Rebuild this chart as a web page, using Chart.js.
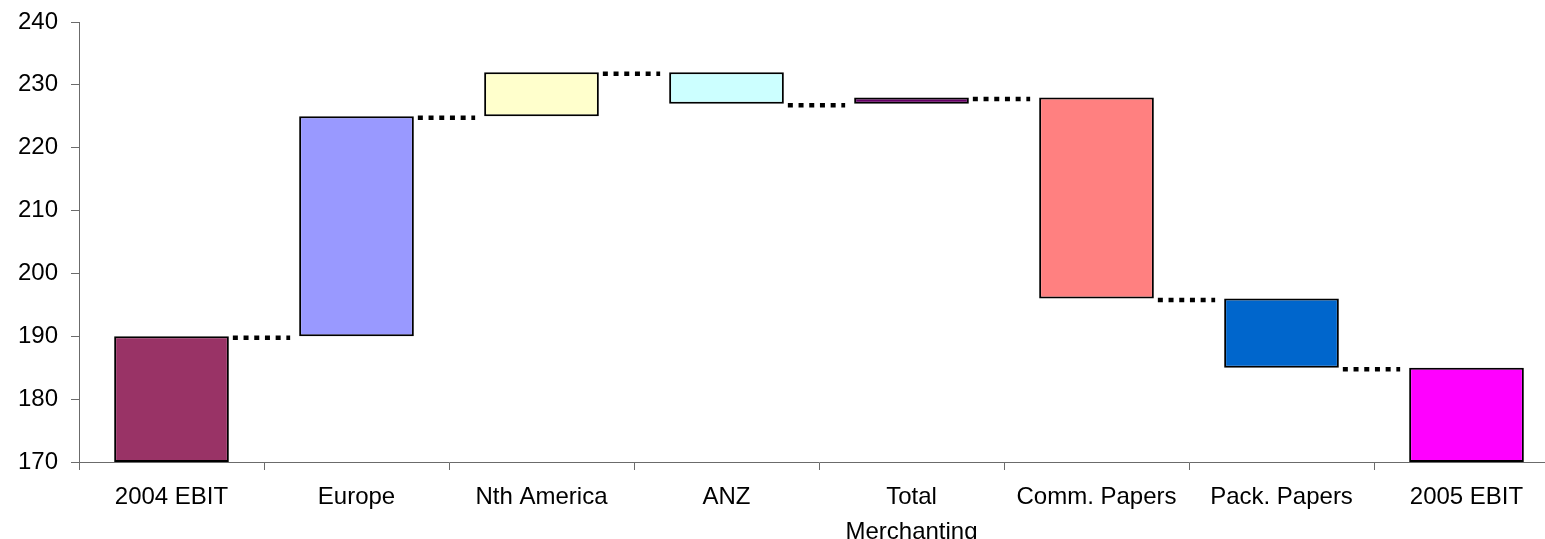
<!DOCTYPE html>
<html>
<head>
<meta charset="utf-8">
<script src="https://cdn.jsdelivr.net/npm/chart.js@4/dist/chart.umd.min.js"></script>
<style>
  html, body { margin: 0; padding: 0; background: #ffffff; overflow: hidden; }
  #wrap { position: relative; width: 1559px; height: 539px; }
</style>
</head>
<body>
<div id="wrap"><canvas id="chart"></canvas></div>
<script>
// EBIT bridge 2004 -> 2005
const categories = ['2004 EBIT', 'Europe', 'Nth America', 'ANZ', ['Total', 'Merchanting'], 'Comm. Papers', 'Pack. Papers', '2005 EBIT'];
const axisFloor = 170;
const ebit2004 = 190;
const movements = [35, 7, -5, 1, -32, -11];   // Europe .. Pack. Papers
const ebit2005 = 185;
const barColors = ['#993366', '#9999FF', '#FFFFCC', '#CCFFFF', '#660066', '#FF8080', '#0066CC', '#FF00FF'];
const yTicks = { min: 170, max: 240, step: 10 };

// floating bars: [from, to] for each category
const floats = [[axisFloor, ebit2004]];
const levels = [ebit2004];
let running = ebit2004;
movements.forEach(m => {
  floats.push([running, running + m]);
  running += m;
  levels.push(running);
});
floats.push([axisFloor, ebit2005]);

const FONT = { family: '"Liberation Sans", Arial, sans-serif', size: 24 };

// dotted step lines from each bar to the next one
const connectors = {
  id: 'connectors',
  afterDatasetsDraw(chart) {
    const meta = chart.getDatasetMeta(0);
    const y = chart.scales.y;
    const ctx = chart.ctx;
    ctx.save();
    ctx.strokeStyle = '#000000';
    ctx.lineWidth = 4.5;
    ctx.setLineDash([5, 5.7]);
    ctx.lineCap = 'butt';
    for (let i = 0; i < levels.length; i++) {
      const a = meta.data[i], b = meta.data[i + 1];
      if (!a || !b) continue;
      const x0 = a.x + a.width / 2 + 4;
      const x1 = b.x - b.width / 2 - 9;
      const py = y.getPixelForValue(levels[i]) + 1.5;
      ctx.beginPath();
      ctx.moveTo(x0, py);
      ctx.lineTo(x1, py);
      ctx.stroke();
    }
    ctx.restore();
  }
};

new Chart(document.getElementById('chart'), {
  type: 'bar',
  data: {
    labels: categories,
    datasets: [{
      data: floats,
      backgroundColor: barColors,
      borderColor: '#000000',
      borderWidth: 2,
      borderSkipped: false,
      barPercentage: 0.62,
      categoryPercentage: 1.0
    }]
  },
  options: {
    responsive: true,
    maintainAspectRatio: false,
    animation: false,
    layout: { padding: { top: 22, left: 0, right: 0, bottom: 0 } },
    plugins: {
      legend: { display: false },
      tooltip: { enabled: false }
    },
    scales: {
      x: {
        offset: true,
        afterFit(scale) { scale.height = 77; scale.paddingLeft = 0; scale.paddingRight = 0; },
        border: { display: true, color: '#6b6b6b', width: 1 },
        grid: {
          offset: true,
          drawOnChartArea: false,
          drawTicks: true,
          tickLength: 8,
          color: '#6b6b6b'
        },
        ticks: {
          color: '#000000',
          font: Object.assign({ lineHeight: 35 / 24 }, FONT),
          padding: 10,
          maxRotation: 0,
          autoSkip: false
        }
      },
      y: {
        min: yTicks.min,
        max: yTicks.max,
        afterFit(scale) { scale.width = 79; scale.paddingTop = 0; scale.paddingBottom = 0; },
        border: { display: true, color: '#6b6b6b', width: 1 },
        grid: {
          drawOnChartArea: false,
          drawTicks: true,
          tickLength: 8,
          color: '#6b6b6b'
        },
        ticks: {
          stepSize: yTicks.step,
          color: '#000000',
          font: FONT,
          padding: 13
        }
      }
    }
  },
  plugins: [connectors]
});
</script>
</body>
</html>
